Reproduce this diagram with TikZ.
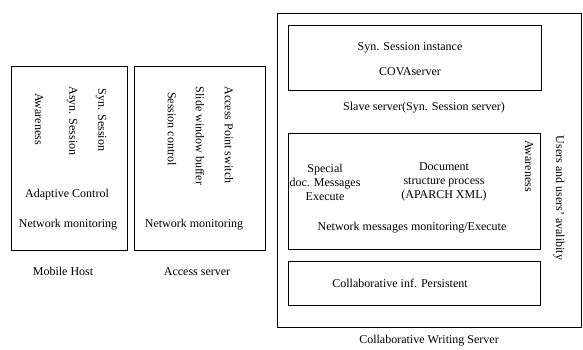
\documentclass[tikz,border=0pt]{standalone}
\usepackage{fontspec}
\setmainfont{Liberation Serif}
\tikzset{
  box/.style={draw, line width=0.6pt, inner sep=0pt},
  lbl/.style={inner sep=0pt, font=\fontsize{12}{14}\selectfont},
  vlbl/.style={lbl, rotate=-90},
}
\begin{document}
\begin{tikzpicture}[x=1pt, y=-1pt]
\useasboundingbox (0,0) rectangle (583,350);
% mobile host
\node[box, minimum width=116pt, minimum height=184pt] (mobile) at (69,158) {};
\node[vlbl] (synsess) at (101,120) {Syn. Session};
\node[vlbl] (asynsess) at (72,121) {Asyn. Session};
\node[vlbl] (aware) at (39,119) {Awareness};
\node[lbl] (adaptive) at (67,195) {Adaptive Control};
\node[lbl] (mobnet) at (68,225) {Network monitoring};
\node[lbl] (mobname) at (63,271) {Mobile Host};
% access server
\node[box, minimum width=131pt, minimum height=184pt] (access) at (199.5,158) {};
\node[vlbl] (apswitch) at (229,135) {Access Point switch};
\node[vlbl] (slidebuf) at (200,136) {Slide window buffer};
\node[vlbl] (sessctrl) at (172,129) {Session control};
\node[lbl] (accnet) at (194,225) {Network monitoring};
\node[lbl] (accname) at (197,272) {Access server};
% collaborative writing server
\node[box, minimum width=304pt, minimum height=314pt] (cws) at (429,170) {};
\node[box, minimum width=253pt, minimum height=65pt] (slave) at (414.5,57.5) {};
\node[lbl] (syninst) at (410,48) {Syn. Session instance};
\node[lbl] (cova) at (410,72) {COVAserver};
\node[lbl] (slavename) at (424,108) {Slave server(Syn. Session server)};
\node[box, minimum width=252pt, minimum height=116pt] (netmsg) at (414,191) {};
\node[lbl, align=center] (special) at (325,182) {Special\\doc. Messages\\Execute};
\node[lbl, align=center] (docproc) at (444,182) {Document\\structure process\\(APARCH XML)};
\node[vlbl] (mawcws) at (529,166) {Awareness};
\node[lbl] (netmon) at (412,228) {Network messages monitoring/Execute};
\node[box, minimum width=252pt, minimum height=44pt] (persist) at (414,283) {};
\node[lbl] (persisttxt) at (400,283) {Collaborative inf. Persistent};
\node[vlbl] (users) at (559,198) {Users and users' avalibity};
\node[lbl] (cwsname) at (429,341) {Collaborative Writing Server};
\end{tikzpicture}
\end{document}
